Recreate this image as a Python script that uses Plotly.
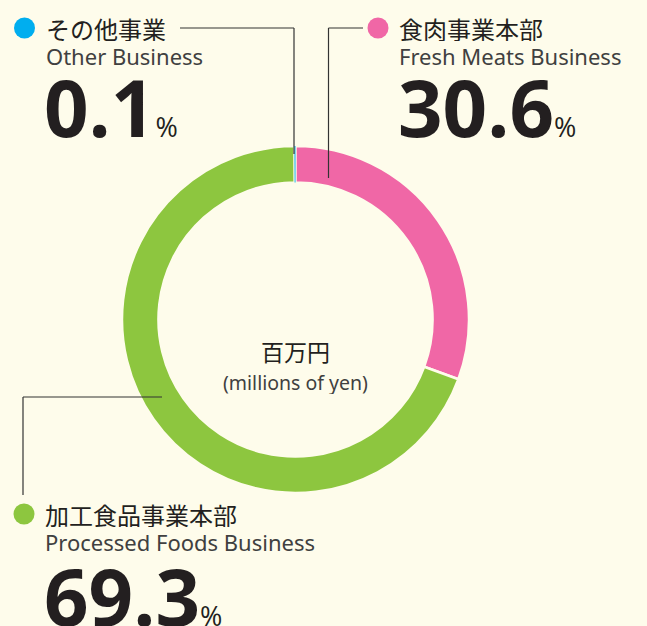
import plotly.graph_objects as go

# ---- data ----
segments_ja = ["食肉事業本部", "加工食品事業本部", "その他事業"]
segments_en = ["Fresh Meats Business", "Processed Foods Business", "Other Business"]
shares = [30.6, 69.3, 0.1]
seg_colors = ["#F067A6", "#8DC63F", "#00AEEF"]
center_ja = "百万円"
center_en = "(millions of yen)"

W, H = 647, 626
BG = "#FEFCEB"
TXT = "#231F20"

def px(x):
    return x / W

def py(y):
    return 1 - y / H

fig = go.Figure()
fig.add_trace(go.Pie(
    labels=segments_en,
    values=shares,
    sort=False,
    direction="clockwise",
    rotation=0,
    hole=0.79,
    marker=dict(colors=seg_colors,
                line=dict(color=[BG, BG, BG], width=[2.5, 2.5, 0])),
    textinfo="none",
    hoverinfo="label+percent",
    showlegend=False,
    domain=dict(x=[px(295.5 - 173.5), px(295.5 + 173.5)],
                y=[py(493), py(146)]),
))

# label block layout: dot centre, text x, number position
blocks = {
    2: dict(dot=(24.5, 28), tx=45, num=(43, 107)),
    0: dict(dot=(378, 28), tx=398, num=(397, 107)),
    1: dict(dot=(24, 514), tx=44, num=(43, 596)),
}

annotations = []
shapes = []
for i, b in blocks.items():
    dx, dy = b["dot"]
    shapes.append(dict(type="circle", xref="paper", yref="paper",
                       x0=px(dx - 10.5), x1=px(dx + 10.5), y0=py(dy + 10.5), y1=py(dy - 10.5),
                       fillcolor=seg_colors[i], line=dict(width=0)))
    annotations.append(dict(x=px(b["tx"]), y=py(dy), xref="paper", yref="paper",
                            xanchor="left", yanchor="middle", showarrow=False,
                            height=26, borderpad=0,
                            text=segments_ja[i],
                            font=dict(family="Noto Sans CJK JP", size=24, color=TXT)))
    annotations.append(dict(x=px(b["tx"]), y=py(dy + 28), xref="paper", yref="paper",
                            xanchor="left", yanchor="middle", showarrow=False,
                            height=24, borderpad=0,
                            text=segments_en[i],
                            font=dict(family="Noto Sans", size=22, color="#404040")))
    nx, ny = b["num"]
    annotations.append(dict(x=px(nx), y=py(ny), xref="paper", yref="paper",
                            xanchor="left", yanchor="middle", showarrow=False,
                            height=66, borderpad=0,
                            text=f"<b>{shares[i]:.1f}</b><span style='font-size:27px'>%</span>",
                            font=dict(family="Open Sans", size=78, color=TXT)))

annotations.append(dict(x=px(295), y=py(351), xref="paper", yref="paper",
                        xanchor="center", yanchor="middle", showarrow=False,
                        height=26, borderpad=0,
                        text=center_ja,
                        font=dict(family="Noto Sans CJK JP", size=23, color=TXT)))
annotations.append(dict(x=px(295), y=py(382), xref="paper", yref="paper",
                        xanchor="center", yanchor="middle", showarrow=False,
                        height=24, borderpad=0,
                        text=center_en,
                        font=dict(family="Noto Sans", size=19.5, color="#404040")))

# leader lines
leaders = [
    [(180, 28), (294, 28), (294, 154)],
    [(363, 28), (328.5, 28), (328.5, 178)],
    [(162, 397), (23, 397), (23, 495)],
]
for pts in leaders:
    for (x0, y0), (x1, y1) in zip(pts[:-1], pts[1:]):
        shapes.append(dict(type="line", xref="paper", yref="paper",
                           x0=px(x0), y0=py(y0), x1=px(x1), y1=py(y1),
                           line=dict(color="#333333", width=1.2)))

fig.update_layout(
    width=W, height=H,
    margin=dict(l=0, r=0, t=0, b=0),
    paper_bgcolor=BG, plot_bgcolor=BG,
    annotations=annotations,
    shapes=shapes,
)
fig.write_html("out.html",
               config={"displayModeBar": False},
               post_script="document.body.style.margin='0';document.body.style.background='%s';" % BG)
